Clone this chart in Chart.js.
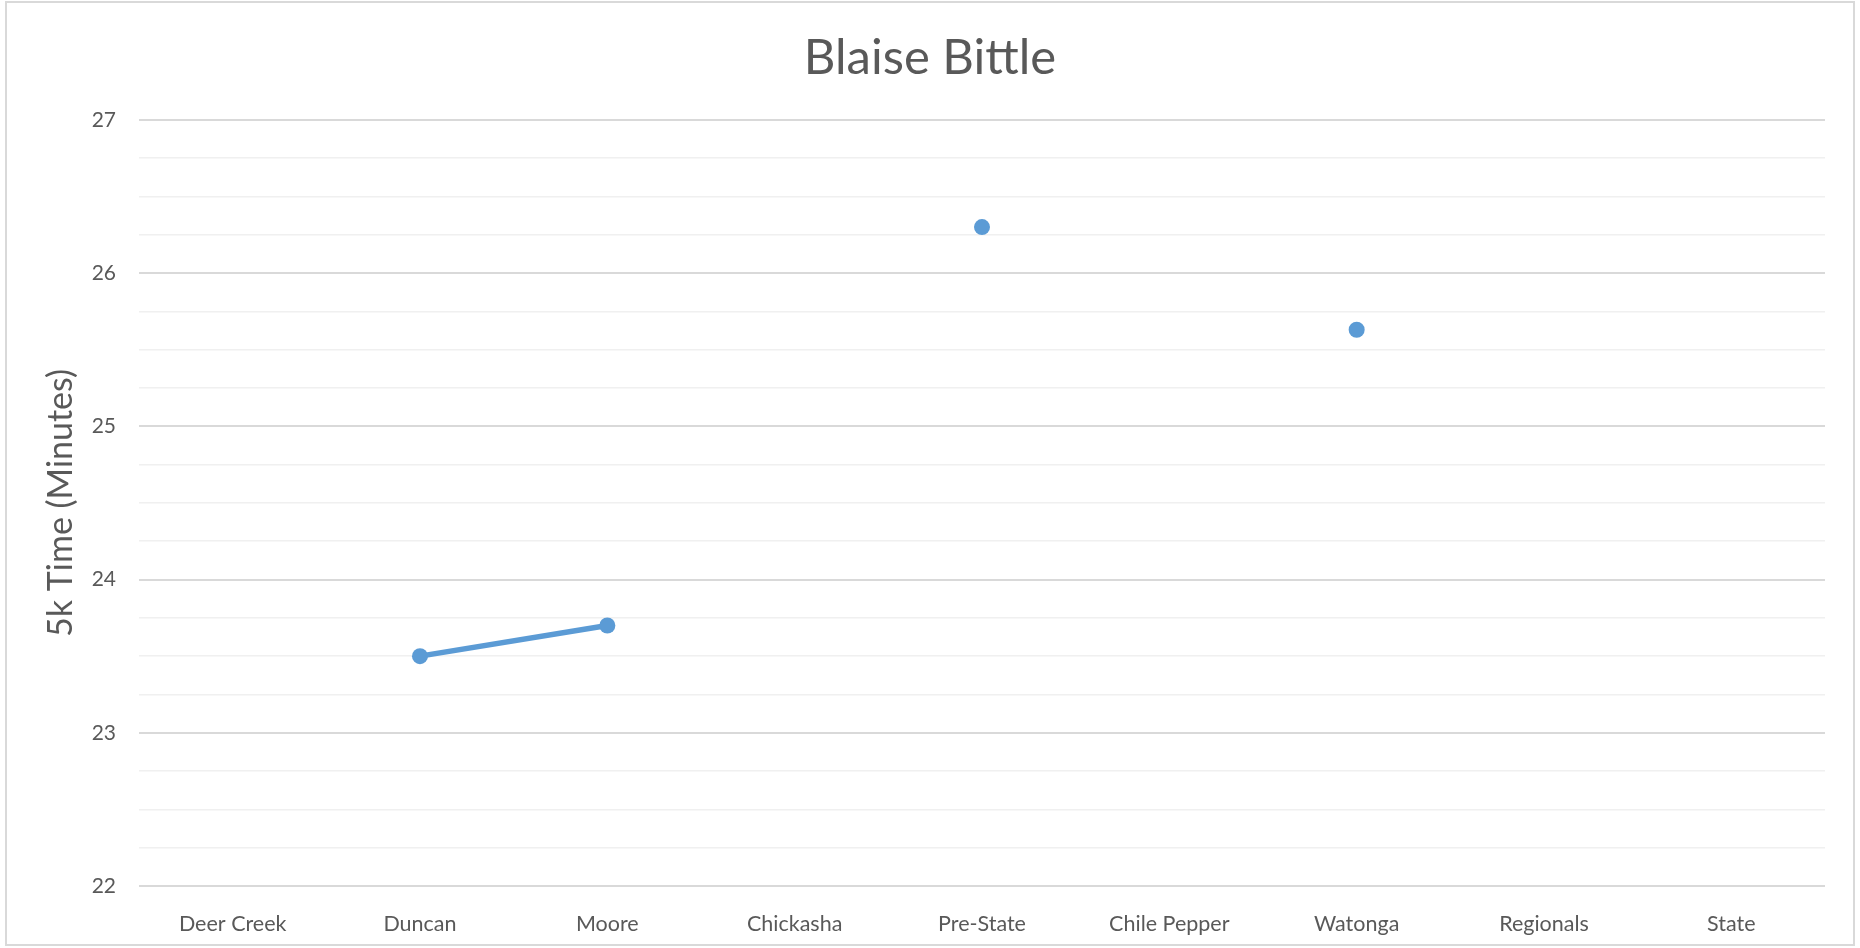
<!DOCTYPE html>
<html>
<head>
<meta charset="utf-8">
<script src="https://cdn.jsdelivr.net/npm/chart.js@4/dist/chart.umd.min.js"></script>
<style>
    html, body { margin: 0; padding: 0; background: #fff; }
    #box {
        position: absolute;
        left: 5px; top: 1px;
        width: 1850px; height: 945px;
        border: 2px solid #d9d9d9;
        box-sizing: border-box;
    }
    #Chart { display: block; }
</style>
</head>
<body>
<div id="box"><canvas id="Chart" width="1846" height="941"></canvas></div>
<script>
// races
const meets = ['Deer Creek', 'Duncan', 'Moore', 'Chickasha', 'Pre-State', 'Chile Pepper', 'Watonga', 'Regionals', 'State'];
// 5k time, minutes (null = no race)
const times = [null, 23.5, 23.7, null, 26.3, null, 25.63, null, null];
const y_min = 22;
const y_max = 27;

const textColor = '#595959';
const lineColor = '#5b9bd5';

const ctx = document.getElementById('Chart');
const chart = new Chart(ctx, {
    type: 'line',
    data: {
        labels: meets,
        datasets: [{
            label: 'Blaise Bittle',
            data: times,
            borderColor: lineColor,
            backgroundColor: lineColor,
            borderWidth: 5.5,
            pointRadius: 8,
            pointBorderWidth: 0,
            spanGaps: false,
            tension: 0
        }]
    },
    options: {
        responsive: false,
        animation: false,
        // same padding both sides so the title stays centred
        layout: { padding: { left: 28, right: 28, top: 0, bottom: 0 } },
        plugins: {
            legend: { display: false },
            tooltip: { enabled: false },
            title: {
                display: true,
                text: 'Blaise Bittle',
                color: textColor,
                font: { family: 'Lato', size: 49, weight: 'normal' },
                padding: { top: 26, bottom: 32 }
            }
        },
        scales: {
            x: {
                offset: true,
                grid: { display: false, offset: true },
                border: { display: false },
                ticks: {
                    color: textColor,
                    font: { family: 'Lato', size: 21.5 },
                    padding: 17,
                    maxRotation: 0,
                    autoSkip: false
                },
                afterFit(scale) { scale.height = 58; }
            },
            y: {
                min: y_min,
                max: y_max,
                border: { display: false },
                grid: {
                    drawTicks: false,
                    color: c => (Number.isInteger(c.tick.value) ? '#d9d9d9' : '#f0f0f0'),
                    lineWidth: c => (Number.isInteger(c.tick.value) ? 2 : 1.5)
                },
                ticks: {
                    stepSize: 0.25,
                    autoSkip: false,
                    color: textColor,
                    font: { family: 'Lato', size: 21 },
                    padding: 23,
                    callback: v => (Number.isInteger(v) ? v : '')
                },
                title: {
                    display: true,
                    text: '5k Time (Minutes)',
                    color: textColor,
                    font: { family: 'Lato', size: 34 },
                    padding: { top: 6, bottom: 0 }
                },
                afterFit(scale) { scale.width = 104; }
            }
        }
    }
});
</script>
</body>
</html>
